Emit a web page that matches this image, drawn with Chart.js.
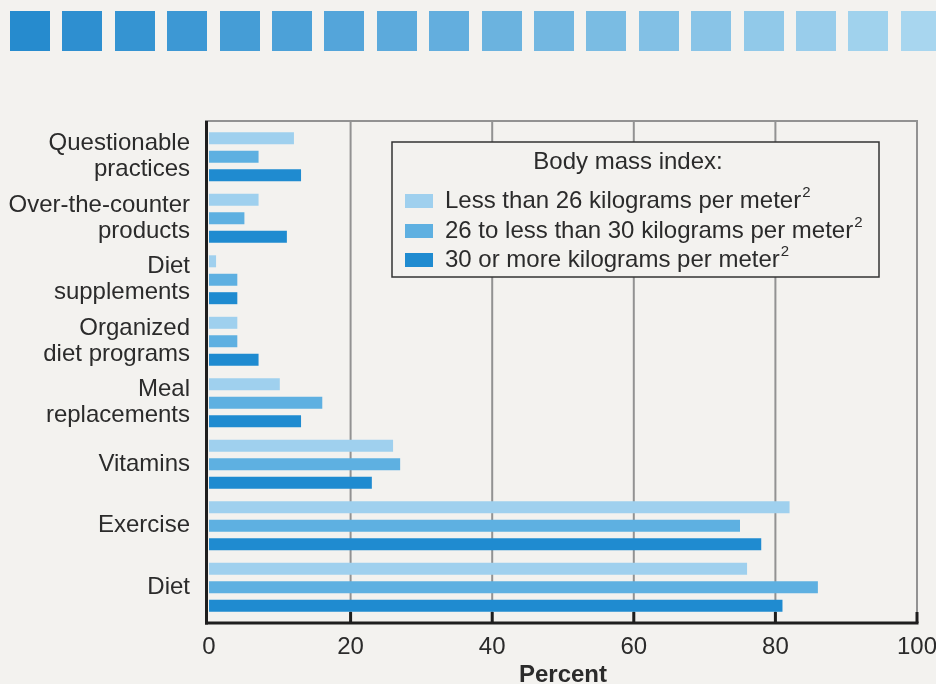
<!DOCTYPE html>
<html><head><meta charset="utf-8">
<script src="https://cdn.jsdelivr.net/npm/chart.js@4.4.1/dist/chart.umd.min.js"></script>
<style>
html,body{margin:0;padding:0;background:#f3f2ef;overflow:hidden;width:936px;height:684px;}
#wrap{position:relative;width:960px;height:690px;}
#strip{position:absolute;left:0;top:0;width:936px;height:60px;overflow:hidden;}
.sq{position:absolute;top:11px;width:40px;height:40px;}
canvas{position:absolute;left:0;top:0;}
</style></head>
<body><div id="wrap"><canvas id="c" width="960" height="690"></canvas><div id="strip"></div></div>
<script>
// ---- data ----
const categories = [["Questionable","practices"],["Over-the-counter","products"],["Diet","supplements"],["Organized","diet programs"],["Meal","replacements"],"Vitamins","Exercise","Diet"];
const seriesNames = ["Less than 26 kilograms per meter","26 to less than 30 kilograms per meter","30 or more kilograms per meter"];
const bmiUnder26 = [12, 7, 1, 4, 10, 26, 82, 76];
const bmi26to30  = [7, 5, 4, 4, 16, 27, 75, 86];
const bmi30plus  = [13, 11, 4, 7, 13, 23, 78, 81];
const xTickValues = [0, 20, 40, 60, 80, 100];
const legendTitle = "Body mass index:";
const axisTitle = "Percent";

// ---- styles ----
const BG = '#f3f2ef';
const TXT = '#2b2b2b';
const colors = ['#9fd0ee', '#5eb0e1', '#1f8bd0'];
const FONT = 'Liberation Sans, Arial, Helvetica, sans-serif';

// decorative header squares
(function(){
  const strip = document.getElementById('strip');
  const c0 = [38,139,206], c1 = [168,214,239];
  for (let i = 0; i < 18; i++) {
    const t = i / 17;
    const c = c0.map((v,k)=>Math.round(v + (c1[k]-v)*t));
    const d = document.createElement('div');
    d.className = 'sq';
    d.style.left = (10 + i*52.4) + 'px';
    d.style.background = 'rgb(' + c.join(',') + ')';
    strip.appendChild(d);
  }
})();

const framePlugin = {
  id: 'frame',
  beforeDatasetsDraw(chart) {
    const {ctx, chartArea: a, scales: {x}} = chart;
    const top = a.top - 5, bot = a.bottom + 5;
    ctx.save();
    ctx.strokeStyle = '#929292';
    ctx.lineWidth = 2;
    x.ticks.forEach(t => {
      if (t.value === 0) return;
      const px = x.getPixelForValue(t.value);
      ctx.beginPath(); ctx.moveTo(px, top); ctx.lineTo(px, bot); ctx.stroke();
    });
    ctx.beginPath(); ctx.moveTo(a.left - 4, top); ctx.lineTo(x.getPixelForValue(100) + 1, top); ctx.stroke();
    ctx.restore();
  },
  afterDatasetsDraw(chart) {
    const {ctx, chartArea: a, scales: {x}} = chart;
    const top = a.top - 5, bot = a.bottom + 5;
    ctx.save();
    ctx.strokeStyle = '#1e1e1e';
    ctx.lineWidth = 3;
    ctx.beginPath(); ctx.moveTo(a.left - 2.5, top); ctx.lineTo(a.left - 2.5, bot + 1.5); ctx.stroke();
    ctx.beginPath(); ctx.moveTo(a.left - 4, bot); ctx.lineTo(x.getPixelForValue(100) + 1.5, bot); ctx.stroke();
    x.ticks.forEach(t => {
      if (t.value === 0) return;
      const px = x.getPixelForValue(t.value);
      ctx.beginPath(); ctx.moveTo(px, bot - 11); ctx.lineTo(px, bot); ctx.stroke();
    });
    ctx.restore();
  },
  afterDraw(chart) {
    const {ctx} = chart;
    const L = 392, T = 142, R = 879, B = 277;
    ctx.save();
    ctx.fillStyle = BG;
    ctx.fillRect(L, T, R - L, B - T);
    ctx.strokeStyle = '#333';
    ctx.lineWidth = 1.5;
    ctx.strokeRect(L, T, R - L, B - T);
    ctx.fillStyle = TXT;
    ctx.textBaseline = 'middle';
    ctx.font = '24px ' + FONT;
    ctx.textAlign = 'center';
    ctx.fillText(legendTitle, 628, 162);
    ctx.textAlign = 'left';
    const rows = [201, 231, 260];
    chart.data.datasets.forEach((ds, i) => {
      const y = rows[i];
      ctx.fillStyle = ds.backgroundColor;
      ctx.fillRect(405, y - 7, 28, 14);
      ctx.fillStyle = TXT;
      ctx.font = '24px ' + FONT;
      ctx.fillText(ds.label, 445, y);
      const w = ctx.measureText(ds.label).width;
      ctx.font = '15px ' + FONT;
      ctx.fillText('2', 445 + w + 1, y - 8);
    });
    ctx.restore();
  }
};

new Chart(document.getElementById('c'), {
  type: 'bar',
  data: {
    labels: categories,
    datasets: [
      {label: seriesNames[0], data: bmiUnder26, backgroundColor: colors[0]},
      {label: seriesNames[1], data: bmi26to30, backgroundColor: colors[1]},
      {label: seriesNames[2], data: bmi30plus, backgroundColor: colors[2]}
    ]
  },
  options: {
    indexAxis: 'y',
    responsive: false,
    animation: false,
    devicePixelRatio: 1,
    layout: {padding: {top: 126, right: 43, left: 0, bottom: 0}},
    datasets: {bar: {categoryPercentage: 0.9, barPercentage: 0.65, borderWidth: 0}},
    plugins: {legend: {display: false}, tooltip: {enabled: false}},
    scales: {
      x: {
        min: 0, max: 100,
        afterBuildTicks(scale) { scale.ticks = xTickValues.map(v => ({value: v})); },
        afterFit(scale) { scale.height = 72; },
        grid: {display: false, drawTicks: false},
        border: {display: false},
        ticks: {color: TXT, font: {family: FONT, size: 24}, padding: 15, maxRotation: 0},
        title: {display: true, text: axisTitle, color: TXT, font: {family: FONT, size: 24, weight: 'bold'}, padding: {top: 0, bottom: 0}}
      },
      y: {
        afterFit(scale) { scale.width = 209; },
        grid: {display: false, drawTicks: false},
        border: {display: false},
        ticks: {color: TXT, font: {family: FONT, size: 24, lineHeight: 1.09}, padding: 19}
      }
    }
  },
  plugins: [framePlugin]
});
</script>
</body></html>
